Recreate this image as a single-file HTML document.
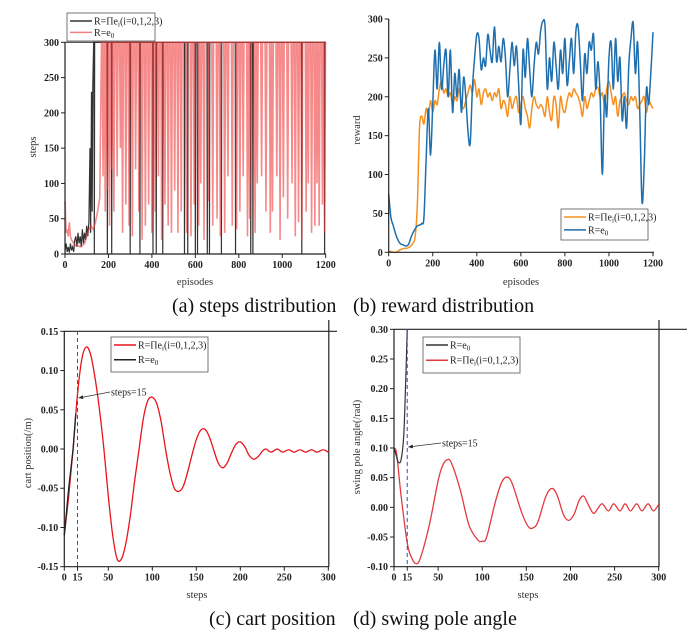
<!DOCTYPE html>
<html><head><meta charset="utf-8"><style>
html,body{margin:0;padding:0;background:#fff;width:687px;height:641px;overflow:hidden}
svg{display:block;font-family:"Liberation Serif",serif}
.tk{font-size:10px;font-weight:bold;fill:#222}
.al{font-size:10.5px;fill:#333}
.cap{font-size:20px;fill:#111}
.lg{font-size:10px;fill:#222}
</style></head><body>
<svg id="fig" width="687" height="641" viewBox="0 0 687 641">
<g id="pa"></g>
<g id="pb"></g>
<g id="pc"></g>
<g id="pd"></g>
<text class="cap" x="172" y="312">(a) steps distribution</text>
<text class="cap" x="353" y="312">(b) reward distribution</text>
<text class="cap" x="209" y="625">(c) cart position</text>
<text class="cap" x="353" y="625">(d) swing pole angle</text>
</svg>
<script>
// ---------- data ----------
const stepsTicksX=[0,200,400,600,800,1000,1200];
const stepsTicksY=[0,50,100,150,200,250,300];
const redEarly=[[0,75],[5,30],[10,35],[15,25],[20,45],[25,25],[30,20],[40,15],[50,12],[60,12],[70,10],[80,12],[90,15],[100,25],[110,35],[120,40],[130,35],[140,45],[150,60],[160,80],[168,300]];
const redDips=[[175,110],[185,60],[195,90],[205,40],[215,120],[225,60],[240,110],[255,150],[265,30],[280,70],[295,40],[310,25],[325,120],[340,60],[355,20],[370,40],[385,70],[400,30],[415,60],[430,110],[445,20],[460,70],[475,40],[490,30],[505,90],[520,30],[535,60],[560,30],[580,25],[595,70],[615,40],[625,100],[640,20],[660,75],[680,40],[700,50],[715,25],[735,30],[750,110],[770,40],[790,35],[805,60],[820,110],[840,25],[850,50],[875,30],[885,100],[905,110],[925,60],[945,30],[955,60],[975,110],[990,20],[1005,80],[1025,50],[1045,100],[1060,25],[1075,45],[1090,20],[1110,60],[1120,100],[1135,30],[1150,40],[1160,100],[1170,40],[1185,70],[1195,30]];
const blackEarly=[[0,5],[5,15],[10,3],[15,10],[20,2],[25,15],[30,5],[35,10],[40,3],[45,20],[50,25],[55,10],[60,30],[65,15],[70,25],[75,10],[80,35],[85,15],[90,30],[95,20],[100,40],[105,25],[110,45],[115,150],[118,30],[122,230],[125,60],[128,240],[132,300]];
const blackDips=[135,195,215,300,345,405,420,450,550,565,600,610,655,665,720,785,855,865,1090,1195];

const rewardTicksY=[0,50,100,150,200,250,300];
const blueReward=[75,45,35,25,17,12,10,9,8,10,18,25,30,34,35,37,45,120,185,125,190,260,210,270,210,240,260,200,260,180,230,200,235,180,225,200,155,140,210,250,280,275,235,250,240,280,260,245,290,245,265,245,275,250,200,235,270,240,265,215,165,260,225,275,235,200,240,270,255,285,297,290,210,250,220,270,240,210,260,230,275,215,245,275,230,285,290,245,195,255,230,270,260,280,210,245,200,100,200,175,250,270,210,275,220,250,170,200,160,240,275,295,230,270,180,65,110,210,190,230,283];
const orangeReward=[1,1,0,0,1,3,4,5,5,6,8,12,20,60,160,175,165,185,175,195,180,195,190,210,220,205,210,200,205,190,200,195,210,190,185,195,205,215,205,222,200,210,190,205,210,200,205,195,205,200,210,185,195,190,175,200,185,195,200,180,190,200,185,175,160,185,200,190,185,190,185,175,200,180,170,200,190,160,200,185,180,195,205,200,210,205,200,190,175,200,185,195,205,200,210,212,200,205,190,210,220,205,190,200,175,195,200,205,195,190,200,195,200,185,190,195,200,180,195,190,185];

const cartSteps=[0,5,10,15,20,25,30,35,40,45,50,55,60,65,70,75,80,85,90,95,100,105,110,115,120,125,130,135,140,145,150,155,160,165,170,175,180,185,190,195,200,205,210,215,220,225,229,235,242,248,255,261,268,274,281,287,294,300];
const cartRed=[-0.11,-0.06,0.0,0.07,0.115,0.13,0.12,0.09,0.05,0.0,-0.06,-0.11,-0.14,-0.14,-0.12,-0.085,-0.04,0.0,0.04,0.062,0.066,0.058,0.035,0.0,-0.03,-0.05,-0.054,-0.048,-0.03,-0.008,0.012,0.024,0.025,0.015,-0.002,-0.018,-0.024,-0.018,-0.005,0.006,0.009,0.003,-0.008,-0.013,-0.01,-0.003,0.0,-0.004,0.0,-0.004,-0.001,-0.004,-0.001,-0.004,-0.001,-0.004,-0.001,-0.004];
const cartBlackSteps=[0,5,10,13];
const cartBlack=[-0.11,-0.05,0.0,0.045];
const cartTicksX=[0,15,50,100,150,200,250,300];
const cartTicksY=[-0.15,-0.10,-0.05,0.00,0.05,0.10,0.15];

const angSteps=[0,3,8,15,20,25,30,40,50,55,60,65,75,85,95,100,105,115,122,128,134,145,152,157,163,172,179,185,192,198,204,210,215,220,226,231,236,243,249,256,262,268,275,281,288,294,300];
const angRed=[0.1,0.09,0.02,-0.06,-0.085,-0.095,-0.085,-0.03,0.045,0.07,0.08,0.075,0.03,-0.03,-0.055,-0.057,-0.05,0.01,0.042,0.051,0.04,-0.01,-0.032,-0.035,-0.025,0.018,0.032,0.02,-0.012,-0.022,-0.012,0.012,0.019,0.005,-0.01,-0.002,0.006,-0.006,0.006,-0.006,0.006,-0.006,0.006,-0.006,0.006,-0.006,0.005];
const angBlackSteps=[0,3,5,8,11,13,15];
const angBlack=[0.1,0.085,0.076,0.08,0.12,0.2,0.3];
const angTicksX=[0,15,50,100,150,200,250,300];
const angTicksY=[-0.10,-0.05,0.00,0.05,0.10,0.15,0.20,0.25,0.30];

// ---------- helpers ----------
const NS="http://www.w3.org/2000/svg";
function mk(parent,tag,attrs){const e=document.createElementNS(NS,tag);for(const k in attrs)e.setAttribute(k,attrs[k]);parent.appendChild(e);return e;}
function lin(d0,d1,r0,r1){return v=>r0+(v-d0)*(r1-r0)/(d1-d0);}
function linePath(pts){return pts.map((p,i)=>(i?'L':'M')+p[0].toFixed(2)+' '+p[1].toFixed(2)).join('');}
function smoothPath(pts){let d='M'+pts[0][0]+' '+pts[0][1];for(let i=0;i<pts.length-1;i++){const p0=pts[i-1]||pts[i],p1=pts[i],p2=pts[i+1],p3=pts[i+2]||p2;const c1=[p1[0]+(p2[0]-p0[0])/6,p1[1]+(p2[1]-p0[1])/6],c2=[p2[0]-(p3[0]-p1[0])/6,p2[1]-(p3[1]-p1[1])/6];d+='C'+c1[0].toFixed(2)+' '+c1[1].toFixed(2)+' '+c2[0].toFixed(2)+' '+c2[1].toFixed(2)+' '+p2[0].toFixed(2)+' '+p2[1].toFixed(2);}return d;}
function axes(g,X,Y,xt,yt,x0,x1,y0,y1,fmtY,opt){
  const ax=mk(g,'g',{});
  
  
  mk(ax,'line',{x1:x0,y1:y0,x2:x1,y2:y0,stroke:'#222','stroke-width':1.2});
  mk(ax,'line',{x1:x0,y1:y0,x2:x0,y2:y1,stroke:'#222','stroke-width':1.2});
  xt.forEach(v=>{const x=X(v);mk(ax,'line',{x1:x,y1:y0,x2:x,y2:y0+4,stroke:'#222'});const t=mk(ax,'text',{x:x,y:y0+14,'text-anchor':'middle',class:'tk'});t.textContent=v;
    
    });
  yt.forEach(v=>{const y=Y(v);mk(ax,'line',{x1:x0-4,y1:y,x2:x0,y2:y,stroke:'#222'});const t=mk(ax,'text',{x:x0-6,y:y+3.5,'text-anchor':'end',class:'tk'});t.textContent=fmtY(v);
    
    });
}
function label(g,txt,x,y,rot,name){const t=mk(g,'text',{x:x,y:y,'text-anchor':'middle',class:'al',transform:rot?`rotate(-90 ${x} ${y})`:''});t.textContent=txt;
  
  }
function legend(g,x,y,w,h,items,name){const lg=mk(g,'g',{});
  
  
  mk(lg,'rect',{x:x,y:y,width:w,height:h,fill:'#fff',stroke:'#555','stroke-width':0.8});
  items.forEach((it,i)=>{const yy=y+8+i*(h-4)/items.length*0.95;mk(lg,'line',{x1:x+3,y1:yy,x2:x+25,y2:yy,stroke:it.c,'stroke-width':1.5});
    const t=mk(lg,'text',{x:x+27,y:yy+3.5,class:'lg'});t.innerHTML=it.pi?'R=Πe<tspan font-size="7" dy="2">i</tspan><tspan dy="-2">(i=0,1,2,3)</tspan>':'R=e<tspan font-size="7" dy="2">0</tspan>';});}
function arrow(g,tx,ty,hx,hy,name){const a=mk(g,'g',{});
  
  
  mk(a,'line',{x1:tx,y1:ty,x2:hx,y2:hy,stroke:'#333','stroke-width':0.8});
  const ang=Math.atan2(hy-ty,hx-tx);const L=5;
  mk(a,'polygon',{points:`${hx},${hy} ${hx-L*Math.cos(ang-0.4)},${hy-L*Math.sin(ang-0.4)} ${hx-L*Math.cos(ang+0.4)},${hy-L*Math.sin(ang+0.4)}`,fill:'#222'});
  const t=mk(a,'text',{x:tx+1,y:ty+3.5,class:'lg'});t.textContent='steps=15';}

// ---------- (a) ----------
(function(){const g=document.getElementById('pa');const X=lin(0,1200,65,325.7),Y=lin(0,300,254,42.3);
 mk(g,'line',{x1:65,y1:42.3,x2:326,y2:42.3,stroke:'#222','stroke-width':1});
 let bp=blackEarly.slice();blackDips.forEach(e=>{bp.push([e-1.5,300],[e,0],[e+1.5,300]);});bp.push([1200,300]);
 const bl=mk(g,'path',{d:linePath(bp.map(p=>[X(p[0]),Y(p[1])])),fill:'none',stroke:'#333','stroke-width':1.2});
 
 
 let rp=redEarly.slice();redDips.forEach(d=>{rp.push([d[0]-4,300],[d[0],d[1]],[d[0]+4,300]);});rp.push([1200,300]);
 const rl=mk(g,'path',{d:linePath(rp.map(p=>[X(p[0]),Y(p[1])])),fill:'none',stroke:'rgba(240,60,60,0.6)','stroke-width':1.6});
 
 
 axes(g,X,Y,stepsTicksX,stepsTicksY,65,326,254,42,v=>v);
 label(g,'steps',36,147,true,'y-axis-title');label(g,'episodes',195,285,false,'x-axis-title');
 legend(g,67,13,88,28,[{c:'#333',pi:1},{c:'#f08080'}],'legend');})();

// ---------- (b) ----------
(function(){const g=document.getElementById('pb');const X=lin(0,1200,388.7,653),Y=lin(0,300,252.3,19);
 const ob=mk(g,'path',{d:smoothPath(orangeReward.map((v,i)=>[X(i*10),Y(v)])),fill:'none',stroke:'#f5901e','stroke-width':1.5});
 
 
 const bb=mk(g,'path',{d:smoothPath(blueReward.map((v,i)=>[X(i*10),Y(v)])),fill:'none',stroke:'#1f6fae','stroke-width':1.5});
 
 
 axes(g,X,Y,stepsTicksX,rewardTicksY,388.7,654,252.3,19,v=>v);
 label(g,'reward',360,130,true,'y-axis-title');label(g,'episodes',521,285,false,'x-axis-title');
 legend(g,561,209,87,31,[{c:'#f5901e',pi:1},{c:'#1f6fae'}],'legend');})();

// ---------- (c) ----------
(function(){const g=document.getElementById('pc');const X=lin(0,300,64.3,328.3),Y=lin(-0.15,0.15,566.7,331.3);
 mk(g,'line',{x1:64,y1:331.3,x2:337,y2:331.3,stroke:'#222','stroke-width':1.2});
 mk(g,'line',{x1:328.8,y1:320,x2:328.8,y2:567,stroke:'#222','stroke-width':1.2});
 const r=mk(g,'path',{d:smoothPath(cartSteps.map((s,i)=>[X(s),Y(cartRed[i])])),fill:'none',stroke:'#e8141c','stroke-width':1.3});
 
 
 const b=mk(g,'path',{d:linePath(cartBlackSteps.map((s,i)=>[X(s),Y(cartBlack[i])])),fill:'none',stroke:'#222','stroke-width':1.3});
 
 
 const dl=mk(g,'line',{x1:X(15),y1:331,x2:X(15),y2:567,stroke:'#2b4fd0','stroke-width':1,'stroke-dasharray':'4,3'});
 
 
 axes(g,X,Y,cartTicksX,cartTicksY,64.3,329,566.7,331,v=>v.toFixed(2));
 label(g,'cart position(/m)',31,453,true,'y-axis-title');label(g,'steps',197,598,false,'x-axis-title');
 legend(g,111,337,97,35,[{c:'#e8141c',pi:1},{c:'#222'}],'legend');
 arrow(g,110,392,X(15)+1,398,'steps-15-annotation');})();

// ---------- (d) ----------
(function(){const g=document.getElementById('pd');const X=lin(0,300,394,658.7),Y=lin(-0.10,0.30,566.7,329.3);
 mk(g,'line',{x1:394,y1:329.3,x2:687,y2:329.3,stroke:'#222','stroke-width':1.2});
 mk(g,'line',{x1:659,y1:320,x2:659,y2:567,stroke:'#222','stroke-width':1.2});
 const r=mk(g,'path',{d:smoothPath(angSteps.map((s,i)=>[X(s),Y(angRed[i])])),fill:'none',stroke:'#e23a3f','stroke-width':1.3});
 
 
 const b=mk(g,'path',{d:smoothPath(angBlackSteps.map((s,i)=>[X(s),Y(angBlack[i])])),fill:'none',stroke:'#333','stroke-width':1.2});
 
 
 const dl=mk(g,'line',{x1:X(15),y1:329,x2:X(15),y2:567,stroke:'#2b4fd0','stroke-width':1,'stroke-dasharray':'4,3'});
 
 
 axes(g,X,Y,angTicksX,angTicksY,394,659,566.7,329,v=>v.toFixed(2));
 label(g,'swing pole angle(/rad)',360,447,true,'y-axis-title');label(g,'steps',528,598,false,'x-axis-title');
 legend(g,423,337,97,36,[{c:'#333'},{c:'#e23a3f',pi:1}],'legend');
 arrow(g,441,443,X(15)+1,447,'steps-15-annotation');})();
</script>
</body></html>
